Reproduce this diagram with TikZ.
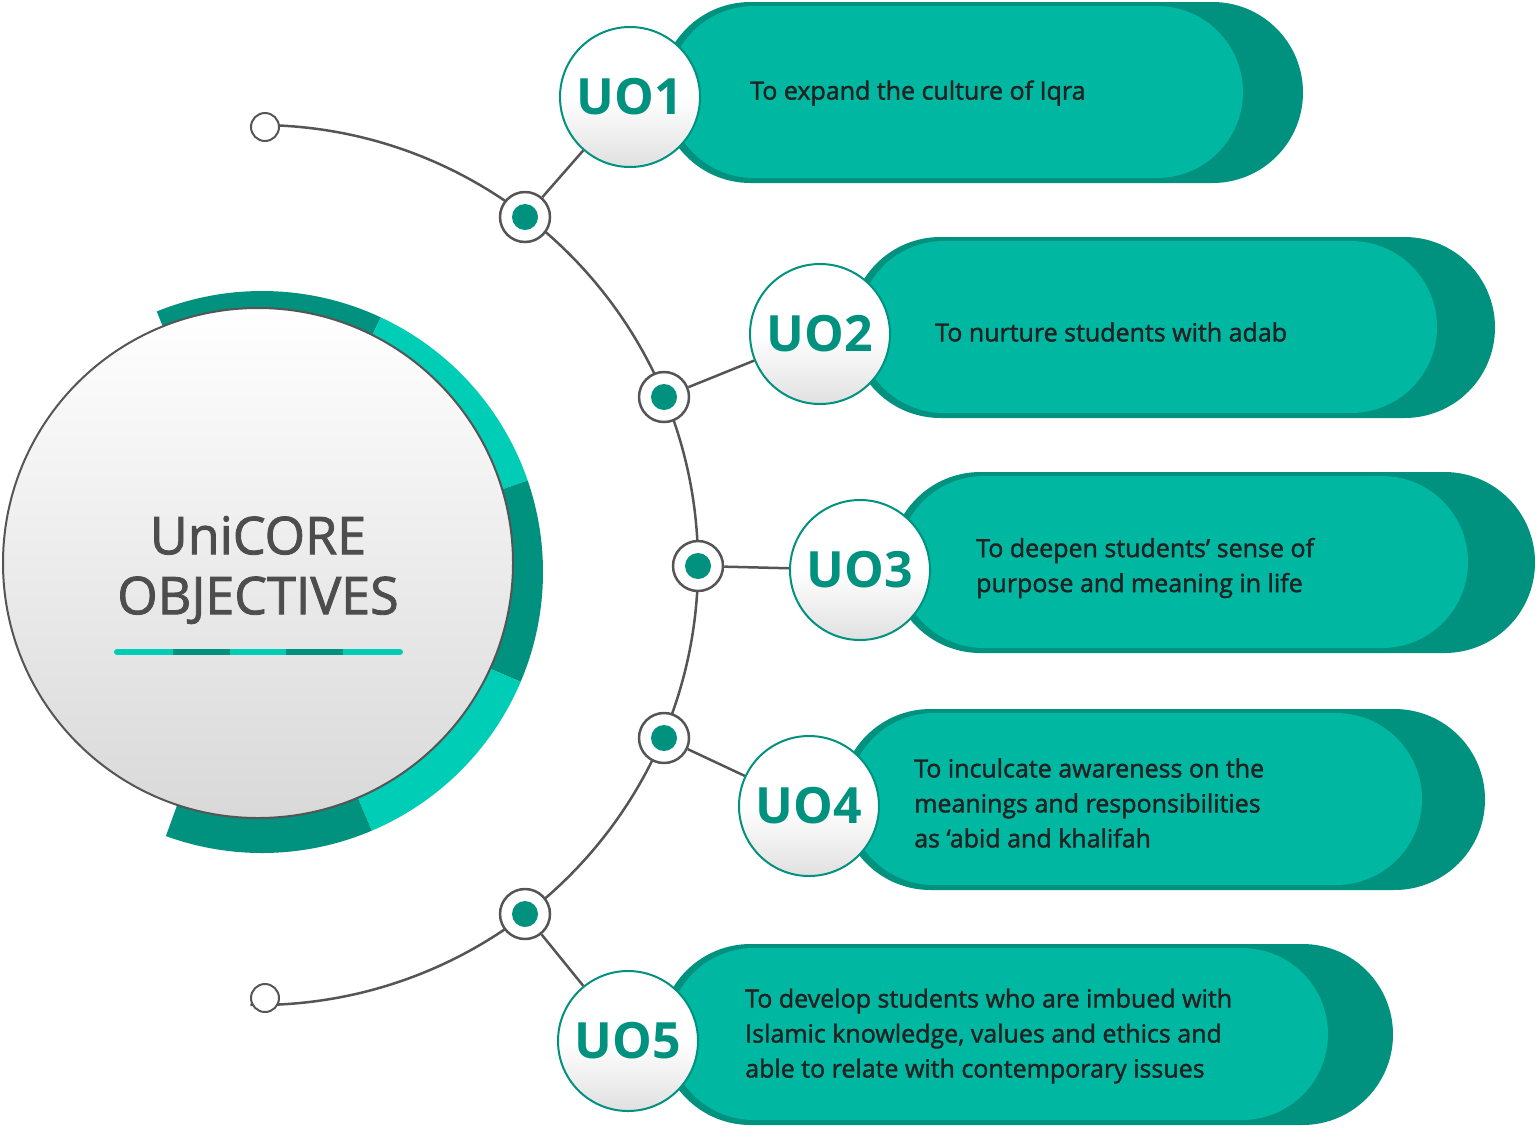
\documentclass[tikz,border=0pt]{standalone}
\usepackage{fontspec}
\setmainfont{Open Sans}
\newfontfamily\semib[FakeBold=1.6]{Open Sans}
\newfontfamily\boldf{Open Sans Bold}
\usetikzlibrary{calc}
\definecolor{tdark}{HTML}{00917F}
\definecolor{tlight}{HTML}{00B7A1}
\definecolor{tcyan}{HTML}{00CDB6}
\definecolor{lgray}{HTML}{555555}
\definecolor{txt}{HTML}{222222}
\definecolor{ttl}{HTML}{4D4D4D}
\tikzset{
 badge/.style={circle, minimum size=140pt, draw=tdark, line width=2pt, top color=white, bottom color=black!12, middle color=white, text=tdark, font=\boldf\fontsize{50}{50}\selectfont, inner sep=0pt},
 dotn/.style={circle, minimum size=50pt, draw=lgray, line width=2.5pt, fill=white, inner sep=0pt},
 endn/.style={circle, minimum size=28pt, draw=lgray, line width=2pt, fill=white, inner sep=0pt},
 conn/.style={lgray, line width=2.5pt},
 ptext/.style={anchor=west, text=txt, align=left, font=\semib\fontsize{25}{35}\selectfont, inner sep=0pt},
}
\newcommand{\pill}[4]{% left, top, backright, frontright
 \fill[tdark, rounded corners=90.5pt] (#1,#2) rectangle (#3,#2+181);
 \fill[tlight, rounded corners=86pt] (#1+8,#2+4) rectangle (#4,#2+176);
}
\newcommand{\seg}[3]{\fill[#1] ($(262,572)+(#2:281)$) arc[start angle=#2, end angle=#3, radius=281] -- ($(262,572)+(#3:230)$) arc[start angle=#3, end angle=#2, radius=230] -- cycle;}
\begin{document}
\begin{tikzpicture}[x=1pt,y=-1pt]
\useasboundingbox (0,0) rectangle (1536,1128);
% ring
\seg{tdark}{-112}{-65}
\seg{tcyan}{-65}{-19}
\seg{tdark}{-19}{23}
\seg{tcyan}{23}{67}
\seg{tdark}{67}{110}
% main circle
\node[circle, minimum size=510pt, draw=lgray, line width=2pt, top color=white, middle color=white, bottom color=black!15, inner sep=0pt] (main) at (258,563) {};
\node[text=ttl, font=\semib\fontsize{52}{60}\selectfont, align=center] (title) at (258,570) {UniCORE\\OBJECTIVES};
\foreach \a/\b/\c in {117/173/tcyan,173/230/tdark,230/286/tcyan,286/343/tdark,343/400/tcyan}
  \draw[\c, line width=6pt] (\a,652) -- (\b,652);
\draw[tcyan, line width=6pt, line cap=round] (117,652) -- (118,652);
\draw[tcyan, line width=6pt, line cap=round] (399,652) -- (400,652);
% arc
\draw[lgray, line width=2.5pt] ($(258,565)+(-91:440)$) arc[start angle=-91, end angle=91, radius=440];
% pills
\pill{660}{2}{1303}{1243}
\pill{850}{237}{1495}{1437}
\pill{890}{472}{1535}{1468}
\pill{840}{709}{1485}{1422}
\pill{660}{944}{1393}{1328}
% texts
\node[ptext] (t1) at (750,93) {To expand the culture of Iqra};
\node[ptext] (t2) at (935,332) {To nurture students with adab};
\node[ptext] (t3) at (976,568) {To deepen students’ sense of\\purpose and meaning in life};
\node[ptext] (t4) at (914,803) {To inculcate awareness on the\\meanings and responsibilities\\as ‘abid and khalifah};
\node[ptext] (t5) at (745,1036) {To develop students who are imbued with\\Islamic knowledge, values and ethics and\\able to relate with contemporary issues};
% badges
\node[badge] (b1) at (630,97) {UO1};
\node[badge] (b2) at (820,334) {UO2};
\node[badge] (b3) at (860,570) {UO3};
\node[badge] (b4) at (809,806) {UO4};
\node[badge] (b5) at (628,1041) {UO5};
% dots
\foreach \i/\x/\y in {1/525/217,2/664/397,3/698/566,4/664/738,5/525/914}{
  \node[dotn] (d\i) at (\x,\y) {};
  \fill[tdark] (\x,\y) circle (13);
}
\node[endn] (e1) at (265,127) {};
\node[endn] (e2) at (265,998) {};
% connectors
\foreach \i in {1,...,5} \draw[conn] (d\i) -- (b\i);
\end{tikzpicture}
\end{document}
